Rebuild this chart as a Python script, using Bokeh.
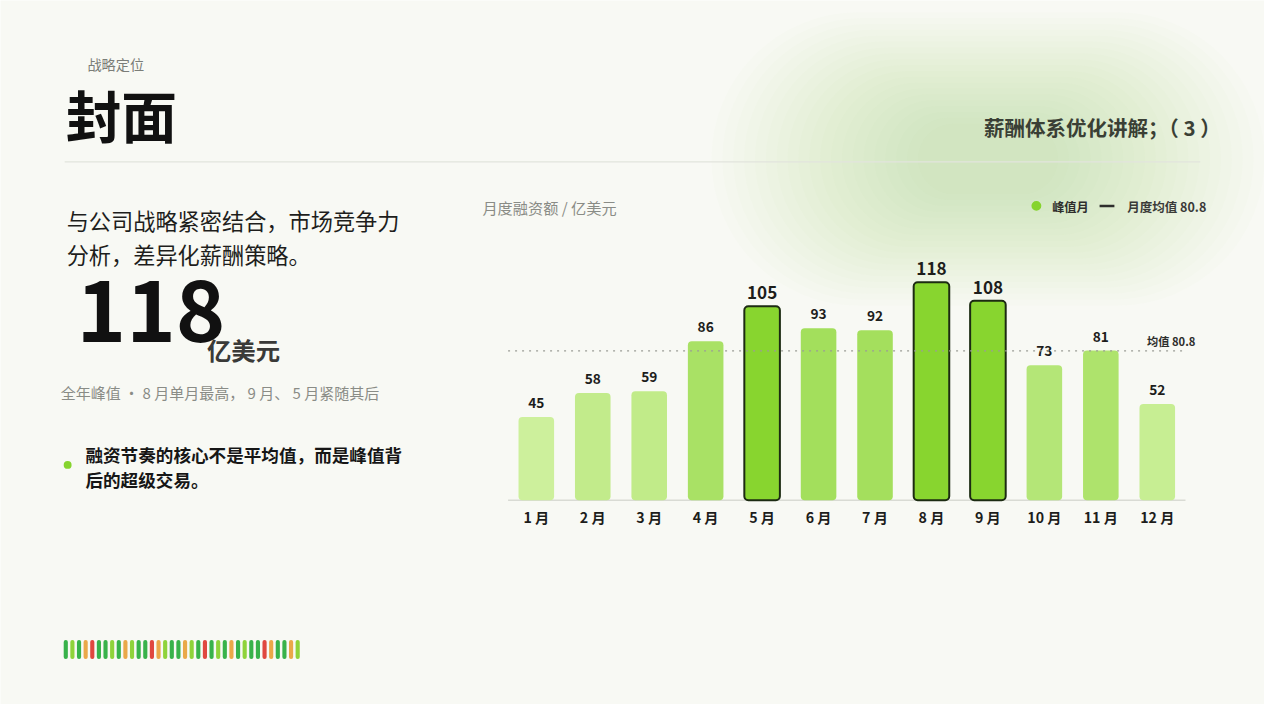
from bokeh.plotting import figure
from bokeh.models import Label, BoxAnnotation, ColumnDataSource, Range1d
from bokeh.embed import file_html
from bokeh.resources import INLINE
from bokeh.core.properties import value

# ---------------- data ----------------
months = ["1 月", "2 月", "3 月", "4 月", "5 月", "6 月",
          "7 月", "8 月", "9 月", "10 月", "11 月", "12 月"]
amounts = [45, 58, 59, 86, 105, 93, 92, 118, 108, 73, 81, 52]
mean_value = 80.8
peak_months = ["5 月", "8 月", "9 月"]
strip_kinds = ["G", "L", "G", "O", "R", "G", "G", "L", "G", "O", "L", "G",
               "G", "R", "O", "L", "G", "G", "O", "L", "G", "R", "G", "L",
               "G", "O", "G", "L", "G", "G", "R", "O", "G", "G", "O", "L"]

# ---------------- styles ----------------
CJK = "Noto Sans CJK SC"
BG = "#f8f9f4"
PEAK_FILL = "#88d52f"
PEAK_LINE = "#1c2b12"
LIGHT = (0xcd, 0xf0, 0x9c)
DARK = (0xa3, 0xdf, 0x5c)
STRIP = {"G": "#38b24a", "L": "#8fd33a", "O": "#eaa849", "R": "#e0473f"}

W, H = 1264, 704
KX, KY = W / 1280, H / 720      # slide (1280x720) -> canvas

# chart area on the slide: left/right edge of the 12 month slots, baseline,
# pixels per 1 unit of value
CH_LEFT, CH_RIGHT = 514 * KX, 1200 * KX
CH_BASE = 511 * KY
PX_PER_UNIT = 1.889 * KY

slot = (CH_RIGHT - CH_LEFT) / len(months)
x_start = -CH_LEFT / slot
x_end = (W - CH_LEFT) / slot
y_start = -(H - CH_BASE) / PX_PER_UNIT
y_end = CH_BASE / PX_PER_UNIT


def mix(v):
    t = (v - 45) / (93 - 45)
    t = max(0.0, min(1.0, t))
    c = [round(a + (b - a) * t) for a, b in zip(LIGHT, DARK)]
    return "#%02x%02x%02x" % tuple(c)


def sx(px):
    return px * KX


def sy(py):
    return H - py * KY


def fs(size):
    return f"{size * KY:.1f}px"


p = figure(width=W, height=H, x_range=Range1d(x_start, x_end),
           y_range=Range1d(y_start, y_end), x_axis_location=None,
           y_axis_location=None, toolbar_location=None, output_backend="svg",
           min_border=0)
p.background_fill_color = BG
p.border_fill_color = BG
p.outline_line_color = None
p.xgrid.visible = False
p.ygrid.visible = False


def label(text, px, py, size, color, bold=False, align="left",
          baseline="middle", font=CJK):
    p.add_layout(Label(x=sx(px), y=sy(py), x_units="screen", y_units="screen",
                       text=text, text_font=font, text_font_size=fs(size),
                       text_font_style="bold" if bold else "normal",
                       text_color=color, text_align=align,
                       text_baseline=baseline))


def box(l, t, w, h, color, alpha=1.0, radius=0, level="annotation"):
    p.add_layout(BoxAnnotation(left=sx(l), right=sx(l + w), top=sy(t),
                               bottom=sy(t + h), left_units="screen",
                               right_units="screen", top_units="screen",
                               bottom_units="screen", fill_color=color,
                               fill_alpha=alpha, line_color=None,
                               border_radius=int(round(radius)), level=level))


# soft green glow (top right)
cx, cy = 1000, 162
n = 20
for i in range(n):
    w = 560 - i * 22
    h = 300 - i * 12
    box(cx - w / 2, cy - h / 2, w, h, "#b9e07f", alpha=0.022,
        radius=h / 2, level="underlay")

# ---------------- bars ----------------
xs = [i + 0.5 for i in range(len(months))]
is_peak = [m in peak_months for m in months]

src_n = ColumnDataSource(dict(
    x=[x for x, k in zip(xs, is_peak) if not k],
    amount=[a for a, k in zip(amounts, is_peak) if not k],
    label=[str(a) for a, k in zip(amounts, is_peak) if not k],
    color=[mix(a) for a, k in zip(amounts, is_peak) if not k]))
src_p = ColumnDataSource(dict(
    x=[x for x, k in zip(xs, is_peak) if k],
    amount=[a for a, k in zip(amounts, is_peak) if k],
    label=[str(a) for a, k in zip(amounts, is_peak) if k]))
src_m = ColumnDataSource(dict(x=xs, month=months))

# baseline (x axis line)
p.segment(x0=0, x1=len(months), y0=0, y1=0, line_color="#d9dbd4",
          line_width=1.5)

p.vbar(x="x", top="amount", bottom=0, width=0.63, source=src_n,
       fill_color="color", line_color=None, border_radius=4)
p.vbar(x="x", top="amount", bottom=0, width=0.63, source=src_p,
       fill_color=PEAK_FILL, line_color=PEAK_LINE, line_width=2,
       border_radius=4)

p.text(x="x", y="amount", text="label", source=src_n,
       text_align="center", text_baseline="bottom", y_offset=-9,
       text_font=value(CJK), text_font_size=fs(14), text_font_style="bold",
       text_color="#1d1d1b")
p.text(x="x", y="amount", text="label", source=src_p,
       text_align="center", text_baseline="bottom", y_offset=-7,
       text_font=value(CJK), text_font_size=fs(17.5), text_font_style="bold",
       text_color="#1d1d1b")

# month labels
p.text(x="x", y=0, text="month", source=src_m, text_align="center",
       text_baseline="middle", y_offset=17 * KY, text_font=value(CJK),
       text_font_size=fs(14.5), text_font_style="bold", text_color="#1d1d1b")

# mean line
p.segment(x0=0, x1=len(months), y0=mean_value, y1=mean_value,
          line_color="#9b9d96", line_width=1.3, line_dash="2 5")
label(f"均值 {mean_value}", 1210, 348, 11.5, "#2e2e2c", bold=True, align="right")

# ---------------- page texts ----------------
label("战略定位", 88, 65, 14.5, "#7b7d78")
label("封面", 66, 116, 57, "#111111", bold=True)
box(65, 164.5, 1150, 1.2, "#e2e4dd")
label("薪酬体系优化讲解；（ 3 ）", 1246, 129, 21, "#3a3f35", bold=True, align="right")

label("与公司战略紧密结合，市场竞争力", 67, 224, 22.7, "#1e1e1c")
label("分析，差异化薪酬策略。", 67, 259, 22.7, "#1e1e1c")
label(str(max(amounts)), 77, 318, 86, "#111111", bold=True)
label("亿美元", 209, 357, 25, "#3a3a38", bold=True)
label("全年峰值 · 8 月单月最高， 9 月、 5 月紧随其后", 61, 401, 15.3, "#8a8c86")

box(64, 471, 8, 8, "#86d42e", radius=4)
label("融资节奏的核心不是平均值，而是峰值背", 86, 464, 18, "#161616", bold=True)
label("后的超级交易。", 86, 490, 18, "#161616", bold=True)

# chart caption & legend
label("月度融资额 / 亿美元", 488, 211, 15.5, "#8a8c86")
box(1044, 205, 10, 10, "#86d42e", radius=5)
label("峰值月", 1065, 211, 12.5, "#2e2e2c", bold=True)
box(1113, 209, 15, 2.5, "#2e2e2c")
label(f"月度均值 {mean_value}", 1141, 211, 12.8, "#3a3a38", bold=True)

# decorative colour strip
for i, k in enumerate(strip_kinds):
    box(64 + i * 6.71, 654, 4.2, 19.5, STRIP[k], radius=2)

open("out.html", "w").write(file_html(p, INLINE))
